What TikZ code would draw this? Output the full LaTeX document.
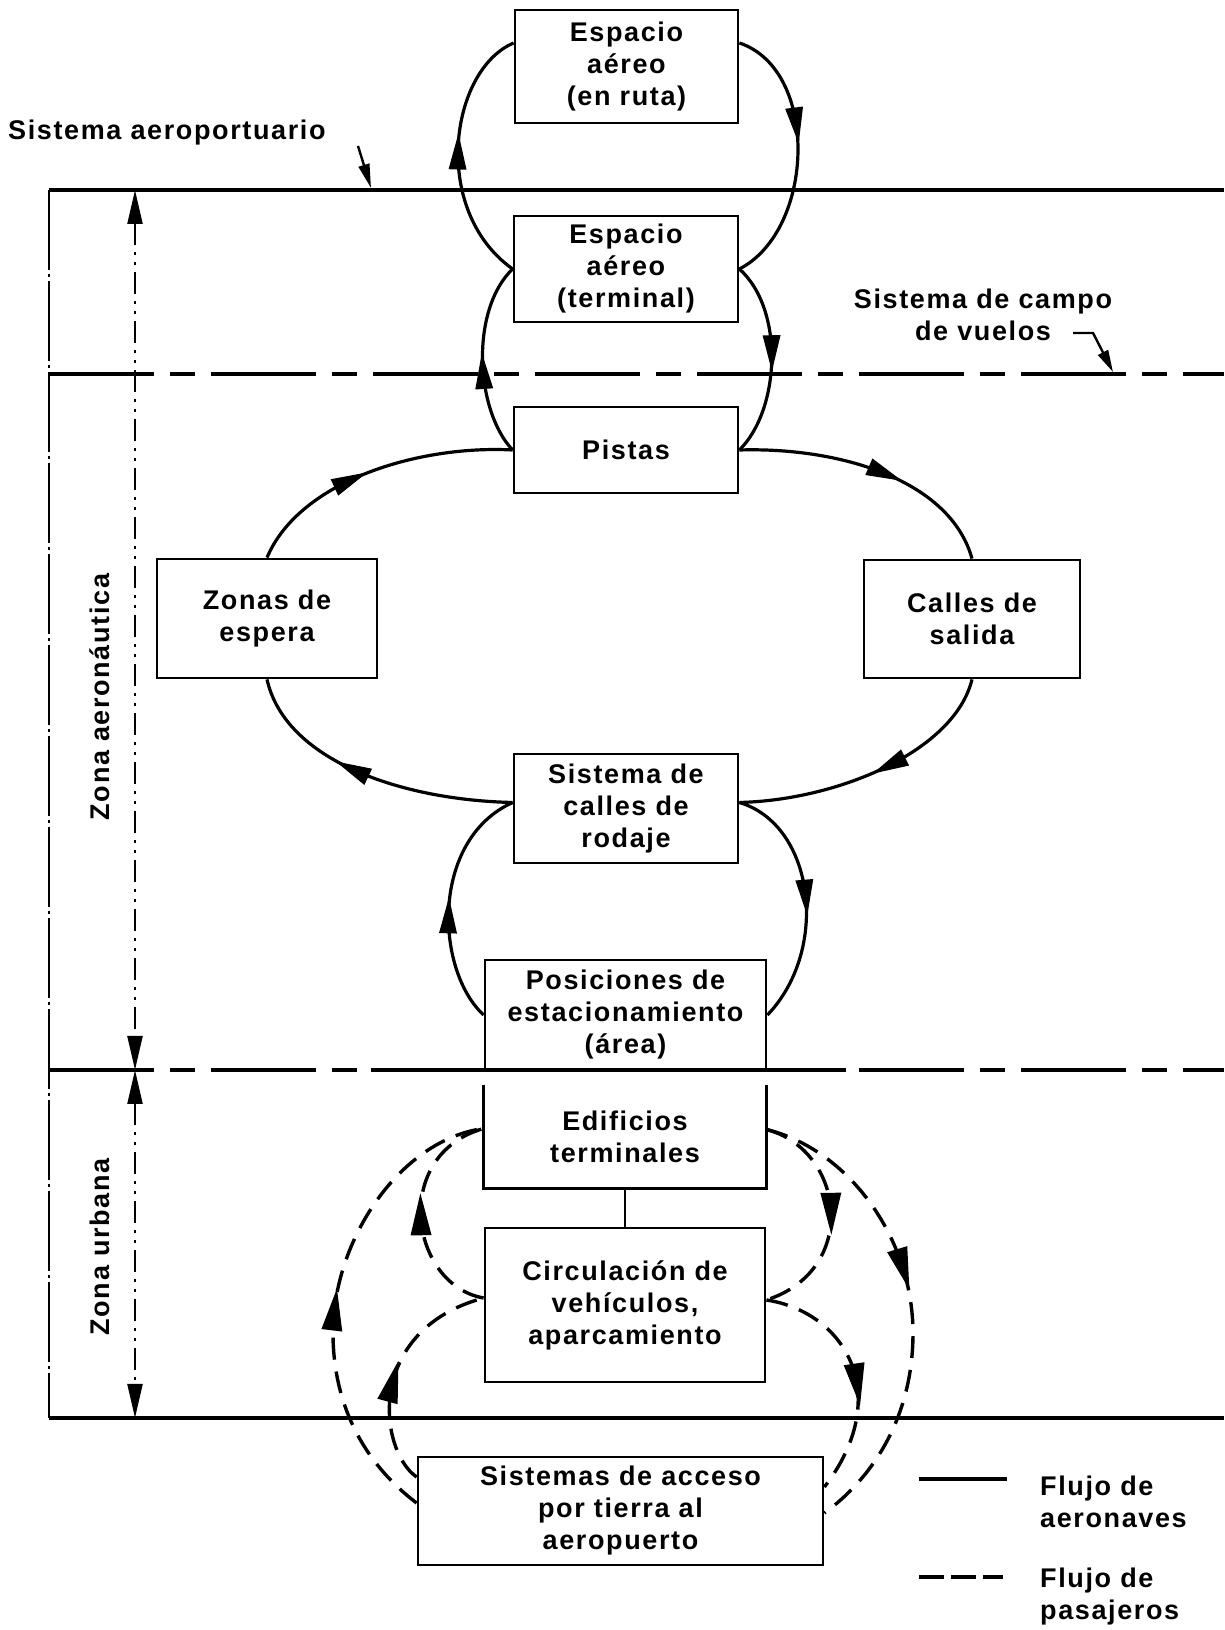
\documentclass[tikz,border=0pt]{standalone}
\usepackage{fontspec}
\setmainfont{Liberation Sans}[LetterSpace=6]
\usetikzlibrary{calc,arrows.meta,decorations.markings}
\newcommand\bxfont{\fontsize{27}{32}\selectfont\bfseries}
\begin{document}
\begin{tikzpicture}[x=1pt,y=1pt,
  bx/.style={draw,line width=2.8pt,inner sep=0pt,align=center,font=\bxfont},
  lbl/.style={font=\bxfont,align=center,inner sep=0pt},
  flow/.style={line width=3.2pt},
  pflow/.style={line width=3.4pt,dash pattern=on 22pt off 12pt},
  arr/.style={postaction={decorate,decoration={markings,mark=at position #1 with {\fill (16,0) -- (-20,9) -- (-20,-9) -- cycle;}}}},
  darr/.style={postaction={decorate,decoration={markings,mark=at position #1 with {\fill (20,0) -- (-22,10.5) -- (-22,-10.5) -- cycle;}}}},
  zone/.style={line width=3.2pt},
  zdash/.style={line width=3.2pt,dash pattern=on 105pt off 16pt on 25pt off 16pt},
  vdash/.style={line width=2.6pt,dash pattern=on 80pt off 4pt on 3pt off 4pt},
  dim/.style={line width=2.2pt,dash pattern=on 22pt off 7pt on 3pt off 7pt on 3pt off 7pt},
  dtip/.style={{Triangle[length=34pt,width=15pt]}-{Triangle[length=34pt,width=15pt]}}
]
\useasboundingbox (0,0) rectangle (1224,1630);

% zone boundaries
\coordinate (tl) at (49,1440); \coordinate (tr) at (1224,1440);
\coordinate (al) at (49,1256); \coordinate (ar) at (1224,1256);
\coordinate (ul) at (49,560);  \coordinate (ur) at (1224,560);
\coordinate (bl) at (49,212);  \coordinate (br) at (1224,212);
\coordinate (us1) at (371,560); \coordinate (us2) at (846,560);
\draw[zone] (tl) -- (tr);
\draw[zdash] (al) -- (ar);
\draw[zdash] (ul) -- (ur);
\draw[zone] (us1) -- (us2);
\draw[zone] (bl) -- (br);
\draw[vdash] (tl) -- (bl);

% dimension line
\coordinate (dT) at (135,1440); \coordinate (dM) at (135,560); \coordinate (dB) at (135,212);
\draw[dim,dtip] (dT) -- (dM);
\draw[dim,dtip] (dM) -- (dB);

% boxes
\node[bx,minimum width=223pt,minimum height=113pt] (b1) at (626.5,1563.5) {Espacio\\aéreo\\(en ruta)};
\node[bx,minimum width=224pt,minimum height=106pt] (b2) at (626,1361) {Espacio\\aéreo\\(terminal)};
\node[bx,minimum width=224pt,minimum height=86pt] (b3) at (626,1180) {Pistas};
\node[bx,minimum width=220pt,minimum height=119pt] (b4) at (267,1011.5) {Zonas de\\espera};
\node[bx,minimum width=216pt,minimum height=118pt] (b5) at (972,1011) {Calles de\\salida};
\node[bx,minimum width=224pt,minimum height=109pt] (b6) at (626,821.5) {Sistema de\\calles de\\rodaje};
\node[bx,minimum width=281pt,minimum height=110pt] (b7) at (625.5,615) {Posiciones de\\estacionamiento\\(área)};
\node[bx,draw=none,minimum width=280pt,minimum height=101pt] (b8) at (625,493.5) {Edificios\\terminales};
\draw[line width=2.8pt] (b8.north west) -- (b8.south west) -- (b8.south east) -- (b8.north east);
\node[bx,minimum width=280pt,minimum height=154pt] (b9) at (625,325) {Circulación de\\vehículos,\\aparcamiento};
\node[bx,minimum width=405pt,minimum height=108pt] (b10) at (620.5,119) {Sistemas de acceso\\por tierra al\\aeropuerto};
\draw[line width=2.6pt] (b8.south) -- (b9.north);

% aircraft flow
\draw[flow,arr=0.52] (b2.west) .. controls (430,1420) and (450,1560) .. ($(b1.west)+(0,23.5)$);
\draw[flow,arr=0.4] ($(b1.east)+(0,23.5)$) .. controls (820,1560) and (815,1400) .. (b2.east);
\draw[flow,arr=0.45] (b3.west) .. controls (475,1220) and (470,1320) .. (b2.west);
\draw[flow,arr=0.48] (b2.east) .. controls (785,1320) and (780,1220) .. (b3.east);
\draw[flow,arr=0.42] (b4.north) .. controls (300,1150) and (420,1185) .. (b3.west);
\draw[flow,arr=0.55] (b3.east) .. controls (840,1183) and (950,1150) .. (b5.north);
\draw[flow,arr=0.45] (b5.south) .. controls (955,880) and (840,830) .. ($(b6.east)+(0,6)$);
\draw[flow,arr=0.57] ($(b6.west)+(0,6)$) .. controls (400,830) and (285,870) .. (b4.south);
\draw[flow,arr=0.45] (b7.west) .. controls (435,660) and (430,790) .. ($(b6.west)+(0,6)$);
\draw[flow,arr=0.5] ($(b6.east)+(0,6)$) .. controls (815,805) and (830,680) .. (b7.east);

% passenger flow
\draw[pflow,darr=0.47] ($(b10.west)+(0,8)$) .. controls (360,170) and (333,230) .. (333,297) .. controls (333,390) and (400,490) .. ($(b8.west)+(0,8)$);
\draw[pflow,darr=0.45] ($(b10.west)+(0,34)$) .. controls (378,180) and (365,300) .. ($(b9.west)+(0,7)$);
\draw[pflow,darr=0.5] ($(b9.west)+(0,7)$) .. controls (410,345) and (390,475) .. ($(b8.west)+(0,8)$);
\draw[pflow,darr=0.43] ($(b8.east)+(0,7)$) .. controls (850,480) and (913,390) .. (913,297) .. controls (913,210) and (870,150) .. ($(b10.east)+(0,-2)$);
\draw[pflow,darr=0.5] ($(b8.east)+(0,7)$) .. controls (845,480) and (860,360) .. ($(b9.east)+(0,5)$);
\draw[pflow,darr=0.55] ($(b9.east)+(0,5)$) .. controls (845,318) and (895,235) .. ($(b10.east)+(0,24)$);

% labels
\node[lbl,anchor=west] (lsa) at (8,1497) {Sistema aeroportuario};
\coordinate (lsa1) at (358,1484); \coordinate (lsa2) at (371,1442);
\draw[line width=2.4pt,-{Triangle[length=24pt,width=11pt]}] (lsa1) -- (lsa2);
\node[lbl] (lcv) at (983,1315) {Sistema de campo\\de vuelos};
\coordinate (lcv1) at (1073,1297); \coordinate (lcv2) at (1093,1297); \coordinate (lcv3) at (1113,1258);
\draw[line width=2.4pt,-{Triangle[length=22pt,width=11pt]}] (lcv1) -- (lcv2) -- (lcv3);
\node[lbl,rotate=90] (lza) at (100,933) {Zona aeronáutica};
\node[lbl,rotate=90] (lzu) at (100,383) {Zona urbana};

% legend
\coordinate (lg1a) at (919,151); \coordinate (lg1b) at (1007,151);
\draw[line width=3.2pt] (lg1a) -- (lg1b);
\node[lbl,anchor=west,align=left] (lg1t) at (1040,128) {Flujo de\\aeronaves};
\coordinate (lg2a) at (919,53); \coordinate (lg2b) at (1003,53);
\draw[line width=3.4pt,dash pattern=on 25pt off 7pt] (lg2a) -- (lg2b);
\node[lbl,anchor=west,align=left] (lg2t) at (1040,33) {Flujo de\\pasajeros};
\end{tikzpicture}
\end{document}
